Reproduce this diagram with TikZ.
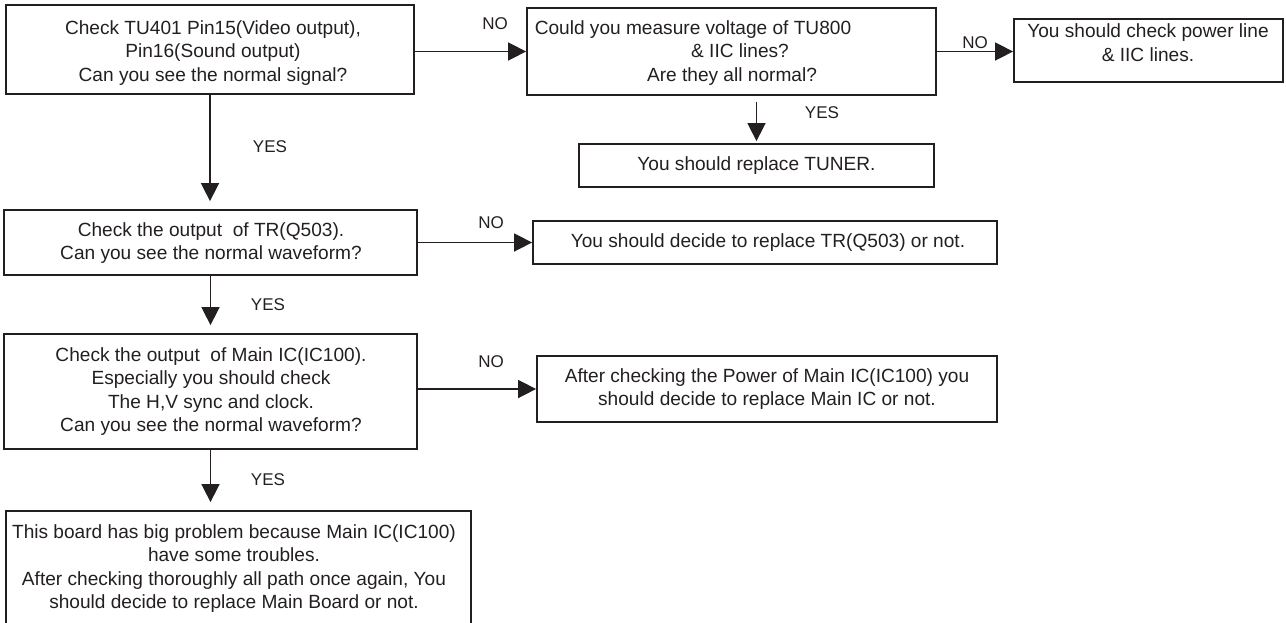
\documentclass[tikz,border=0pt]{standalone}
\usepackage{fontspec}
\setmainfont{Liberation Sans}
\usetikzlibrary{arrows.meta}
\definecolor{ink}{HTML}{231F20}
\begin{document}
\begin{tikzpicture}[x=1pt,y=-1pt,
  box/.style={draw=ink, line width=1.8pt, inner sep=0pt},
  txt/.style={text=ink, align=center, inner sep=0pt,
              font=\fontsize{19.1pt}{23.5pt}\selectfont},
  lbl/.style={text=ink, inner sep=0pt, font=\fontsize{17pt}{20pt}\selectfont},
  arr/.style={draw=ink, line width=1.6pt,
              -{Triangle[length=18pt,width=18pt]}}]
\clip (0,0) rectangle (1286,622);

% boxes
\node[box, minimum width=408pt, minimum height=89pt] (b1) at (210,49.5) {};
\node[box, minimum width=409pt, minimum height=87pt] (b2) at (731.5,51.5) {};
\node[box, minimum width=269pt, minimum height=63pt] (b3) at (1148.5,50.5) {};
\node[box, minimum width=355pt, minimum height=43pt] (tuner) at (756.5,165.5) {};
\node[box, minimum width=413pt, minimum height=65pt] (b4) at (210.5,242.5) {};
\node[box, minimum width=464pt, minimum height=43pt] (b5) at (765,242.5) {};
\node[box, minimum width=413pt, minimum height=115pt] (b6) at (210.5,391.5) {};
\node[box, minimum width=460pt, minimum height=66pt] (b7) at (767,389) {};
\node[box, minimum width=465pt, minimum height=140pt] (b8) at (238.5,581) {};

% box texts
\node[txt] (t1) at (213,53) {Check TU401 Pin15(Video output),\\Pin16(Sound output)\\Can you see the normal signal?};
\node[txt] (t2) at (732,53) {Could you measure voltage of TU800\hspace*{78pt}\\\hspace*{16pt}\& IIC lines?\\Are they all normal?};
\node[txt] (t3) at (1148,42.5) {You should check power line\\\& IIC lines.};
\node[txt] (t4) at (756.5,165.5) {You should replace TUNER.};
\node[txt] (t5) at (211,243) {Check the output\ \ of TR(Q503).\\Can you see the normal waveform?};
\node[txt] (t6) at (768,243) {You should decide to replace TR(Q503) or not.};
\node[txt] (t7) at (211,391.5) {Check the output\ \ of Main IC(IC100).\\Especially you should check\\The H,V sync and clock.\\Can you see the normal waveform?};
\node[txt] (t8) at (767,389) {After checking the Power of Main IC(IC100) you\\should decide to replace Main IC or not.};
\node[txt] (t9) at (234,568.5) {This board has big problem because Main IC(IC100)\\have some troubles.\\After checking thoroughly all path once again, You\\should decide to replace Main Board or not.};

% connectors
\draw[arr] (b1.east |- b2.west) -- (b2.west);
\draw[arr] (b2.east) -- (b2.east -| b3.west);
\draw[arr, shorten <=6pt, shorten >=2pt] (tuner.north |- b2.south) -- (tuner.north);
\draw[arr, shorten >=8pt] (b1.south) -- (b1.south |- b4.north);
\draw[arr] (b4.east) -- (b4.east -| b5.west);
\draw[arr, shorten >=8pt] (b4.south) -- (b4.south |- b6.north);
\draw[arr] (b7.west -| b6.east) -- (b7.west);
\draw[arr, shorten >=8pt] (b6.south) -- (b6.south |- b8.north);

% branch labels
\node[lbl] (n1) at (495,24) {NO};
\node[lbl] (n2) at (975,43) {NO};
\node[lbl] (y1) at (822,113) {YES};
\node[lbl] (y2) at (270,147) {YES};
\node[lbl] (n3) at (491,223) {NO};
\node[lbl] (y3) at (268,305) {YES};
\node[lbl] (n4) at (491,362) {NO};
\node[lbl] (y4) at (268,480) {YES};
\end{tikzpicture}
\end{document}
